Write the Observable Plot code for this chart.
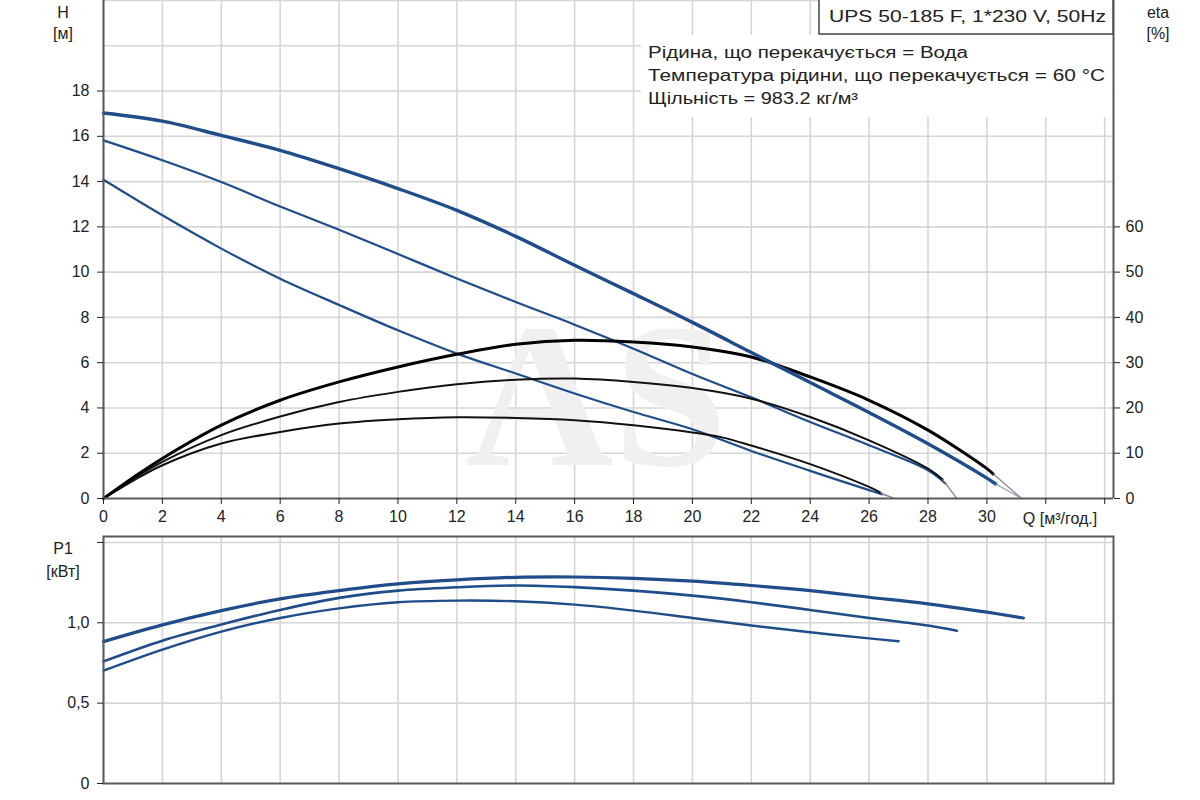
<!DOCTYPE html>
<html>
<head>
<meta charset="utf-8">
<script src="https://cdn.jsdelivr.net/npm/d3@7"></script>
<script src="https://cdn.jsdelivr.net/npm/@observablehq/plot@0.6"></script>
<style>
  html, body { margin: 0; padding: 0; background: #fff; }
  #wrap { position: relative; width: 1200px; height: 800px; overflow: hidden; background: #fff; font-family: "Liberation Sans", Arial, sans-serif; }
  #top, #bottom, #over { position: absolute; left: 0; }
  #top { top: 0; }
  #bottom { top: 530px; }
  #over { top: 0; width: 1200px; height: 800px; pointer-events: none; }
</style>
</head>
<body>
<div id="wrap">
  <div id="top"></div>
  <div id="bottom"></div>
  <svg id="over" width="1200" height="800"></svg>
</div>
<script>
// ---- Data ----
// Head curves H [m] vs Q [m3/h], three speeds (last point = thin extension to the axis)
const qH1 = [0, 2, 4, 6, 8, 10, 12, 14, 16, 18, 20, 22, 24, 26, 28, 30, 30.3, 31.18];
const h1  = [17.03, 16.67, 16.04, 15.38, 14.57, 13.69, 12.73, 11.58, 10.30, 9.05, 7.78, 6.45, 5.12, 3.80, 2.42, 0.90, 0.64, 0];
const qH2 = [0, 2, 4, 6, 8, 10, 12, 14, 16, 18, 20, 22, 24, 26, 28, 28.6, 28.98];
const h2  = [15.82, 14.94, 13.98, 12.90, 11.87, 10.80, 9.72, 8.68, 7.68, 6.62, 5.50, 4.47, 3.38, 2.35, 1.25, 0.66, 0];
const qH3 = [0, 2, 4, 6, 8, 10, 12, 14, 16, 18, 20, 22, 24, 26, 26.45, 26.9];
const h3  = [14.08, 12.51, 11.04, 9.71, 8.55, 7.43, 6.40, 5.52, 4.64, 3.82, 3.06, 2.10, 1.22, 0.37, 0.18, 0];

// Efficiency curves eta [%] vs Q
const qE1 = [0, 1, 2, 4, 6, 8, 10, 12, 14, 16, 18, 20, 22, 24, 26, 28, 30, 30.22, 31.18];
const eta1 = [0, 4.6, 8.85, 16.2, 21.7, 25.75, 29.05, 31.85, 34.05, 34.95, 34.55, 33.45, 31.25, 26.85, 21.7, 15.1, 6.6, 5.4, 0];
const qE2 = [0, 1, 2, 4, 6, 8, 10, 12, 14, 16, 18, 20, 22, 24, 26, 28, 28.5, 28.98];
const eta2 = [0, 4.3, 8.1, 14.0, 18.1, 21.3, 23.55, 25.25, 26.25, 26.5, 25.75, 24.4, 22.05, 18.0, 12.85, 6.6, 4.2, 0];
const qE3 = [0, 1, 2, 4, 6, 8, 10, 12, 14, 16, 18, 20, 21, 22, 24, 26, 26.4, 26.85];
const eta3 = [0, 3.9, 7.35, 12.15, 14.7, 16.55, 17.5, 17.95, 17.8, 17.3, 16.2, 14.6, 13.5, 11.7, 7.6, 2.55, 1.25, 0];

// Power curves P1 [kW] vs Q
const qP1 = [0, 2, 4, 6, 8, 10, 12, 14, 16, 18, 20, 22, 24, 26, 28, 30, 31.24];
const p1  = [0.883, 0.987, 1.076, 1.149, 1.20, 1.242, 1.267, 1.283, 1.285, 1.277, 1.259, 1.232, 1.20, 1.159, 1.118, 1.066, 1.030];
const qP2 = [0, 2, 4, 6, 8, 10, 12, 14, 16, 18, 20, 22, 24, 26, 28, 28.98];
const p2  = [0.760, 0.889, 0.989, 1.080, 1.155, 1.20, 1.221, 1.232, 1.222, 1.20, 1.169, 1.128, 1.080, 1.030, 0.983, 0.951];
const qP3 = [0, 2, 4, 6, 8, 10, 12, 14, 16, 18, 20, 22, 24, 26, 27];
const p3  = [0.702, 0.833, 0.945, 1.030, 1.090, 1.128, 1.138, 1.134, 1.113, 1.076, 1.030, 0.983, 0.941, 0.903, 0.885];

// Axis ticks / labels
const xTicks = [0, 2, 4, 6, 8, 10, 12, 14, 16, 18, 20, 22, 24, 26, 28, 30];
const xExtraTicks = [32, 34];
const xGrid = [0, 2, 4, 6, 8, 10, 12, 14, 16, 18, 20, 22, 24, 26, 28, 30, 32, 34];
const hTicks = [0, 2, 4, 6, 8, 10, 12, 14, 16, 18];
const hGrid = [2, 4, 6, 8, 10, 12, 14, 16, 18, 20, 22];
const etaTicks = [0, 10, 20, 30, 40, 50, 60];
const pTicks = [0, 0.5, 1.0];
const pGrid = [0.5, 1.0, 1.5];
const ETA_PER_M = 5; // eta axis: 5 % per metre of H scale

const infoTitle = "UPS 50-185 F, 1*230 V, 50Hz";
const infoLines = ["Рідина, що перекачується = Вода", "Температура рідини, що перекачується = 60 °C", "Щільність = 983.2 кг/м³"];

const zip = (xs, ys) => xs.map((x, i) => ({x, y: ys[i]}));
const main = (xs, ys) => zip(xs, ys).slice(0, -1);
const tail = (xs, ys) => zip(xs, ys).slice(-2);

const BLUE = "#1f4d8a";
const BLUE_TAIL = "#8fa3c0";
const BLACK_TAIL = "#8a8a8a";
const GRID = "#d6d6d6";
const AX = "#5a5a5a";
const FONT = "Liberation Sans, Arial, sans-serif";
const xDomain = [0, 34.3];
const CURVE = "catmull-rom";

function curve(xs, ys, stroke, width, tailStroke, yf = d => d.y) {
  return [
    Plot.line(main(xs, ys), {x: "x", y: yf, stroke, strokeWidth: width, curve: CURVE}),
    Plot.line(tail(xs, ys), {x: "x", y: yf, stroke: tailStroke, strokeWidth: 1.2})
  ];
}
const etaY = d => d.y / ETA_PER_M;

const topPlot = Plot.plot({
  width: 1200, height: 532,
  marginLeft: 103, marginRight: 87, marginTop: 0, marginBottom: 34,
  x: {domain: xDomain},
  y: {domain: [0, 22]},
  style: {fontFamily: FONT, fontSize: "16px", color: "#222", background: "transparent"},
  marks: [
    Plot.ruleX(xGrid, {stroke: GRID, strokeWidth: 1.6}),
    Plot.ruleY(hGrid, {stroke: GRID, strokeWidth: 1.6}),
    Plot.text(["AS"], {frameAnchor: "middle", dx: -12, dy: 150, text: d => d, fontSize: 205, fontWeight: "bold", fontFamily: "Liberation Serif, serif", fill: "#f0f0f0"}),
    ...curve(qH3, h3, BLUE, 2.2, BLUE_TAIL),
    ...curve(qH2, h2, BLUE, 2.2, BLUE_TAIL),
    ...curve(qE3, eta3, "#111", 2, BLACK_TAIL, etaY),
    ...curve(qE2, eta2, "#111", 2, BLACK_TAIL, etaY),
    ...curve(qE1, eta1, "#000", 3, BLACK_TAIL, etaY),
    ...curve(qH1, h1, BLUE, 3.4, BLUE_TAIL),
    Plot.ruleX([xDomain[0], xDomain[1]], {stroke: AX, strokeWidth: 2}),
    Plot.ruleY([0], {stroke: AX, strokeWidth: 2}),
    Plot.axisY(hTicks, {anchor: "left", tickSize: 6, tickPadding: 8, label: null, stroke: "#222", fontSize: 16}),
    Plot.axisY(etaTicks.map(e => e / ETA_PER_M), {anchor: "right", tickSize: 6, tickPadding: 6, label: null, tickFormat: d => String(Math.round(d * ETA_PER_M)), stroke: "#222", fontSize: 16}),
    Plot.axisX(xTicks, {anchor: "bottom", tickSize: 6, tickPadding: 6, label: null, stroke: "#222", fontSize: 16}),
    Plot.axisX(xExtraTicks, {anchor: "bottom", tickSize: 6, label: null, tickFormat: () => "", stroke: "#222"})
  ]
});
document.getElementById("top").appendChild(topPlot);

const bottomPlot = Plot.plot({
  width: 1200, height: 270,
  marginLeft: 103, marginRight: 87, marginTop: 6, marginBottom: 17,
  x: {domain: xDomain, axis: null},
  y: {domain: [0, 1.537]},
  style: {fontFamily: FONT, fontSize: "16px", color: "#222", background: "transparent"},
  marks: [
    Plot.ruleX(xGrid, {stroke: GRID, strokeWidth: 1.6}),
    Plot.ruleY(pGrid, {stroke: GRID, strokeWidth: 1.6}),
    Plot.line(zip(qP3, p3), {x: "x", y: "y", stroke: BLUE, strokeWidth: 2.4, curve: CURVE}),
    Plot.line(zip(qP2, p2), {x: "x", y: "y", stroke: BLUE, strokeWidth: 2.6, curve: CURVE}),
    Plot.line(zip(qP1, p1), {x: "x", y: "y", stroke: BLUE, strokeWidth: 3.2, curve: CURVE}),
    Plot.frame({stroke: AX, strokeWidth: 2}),
    Plot.axisY(pTicks, {anchor: "left", tickSize: 6, tickPadding: 8, label: null, tickFormat: d => d === 0 ? "0" : d.toFixed(1).replace(".", ","), stroke: "#222", fontSize: 16}),
    Plot.axisY([1.5], {anchor: "left", tickSize: 6, label: null, tickFormat: () => "", stroke: "#222"})
  ]
});
document.getElementById("bottom").appendChild(bottomPlot);

// ---- Annotations (axis titles and info box) ----
const over = d3.select("#over").style("font-family", FONT).style("font-size", "16px");
const lab = (x, y, t, anchor = "middle") => over.append("text").attr("x", x).attr("y", y).attr("text-anchor", anchor).attr("dominant-baseline", "middle").attr("fill", "#222").text(t);
lab(63, 14, "H"); lab(63, 35, "[м]");
lab(1158, 14, "eta"); lab(1158, 35, "[%]");
lab(63, 550, "P1"); lab(63, 573, "[кВт]");
lab(1060, 520, "Q [м³/год.]");

over.append("rect").attr("x", 641).attr("y", 35).attr("width", 471).attr("height", 82).attr("fill", "#fff");
over.append("rect").attr("x", 819).attr("y", -2).attr("width", 294).attr("height", 36).attr("fill", "#fff").attr("stroke", "#444").attr("stroke-width", 1.5);
over.append("text").attr("x", 829).attr("y", 18).attr("dominant-baseline", "middle").attr("fill", "#222").attr("textLength", 277).attr("lengthAdjust", "spacingAndGlyphs").text(infoTitle);
const lineLens = [320, 457, 210];
infoLines.forEach((t, i) => {
  over.append("text").attr("x", 648).attr("y", 54 + i * 23).attr("dominant-baseline", "middle").attr("fill", "#222")
    .attr("textLength", lineLens[i]).attr("lengthAdjust", "spacingAndGlyphs").text(t);
});
</script>
</body>
</html>
